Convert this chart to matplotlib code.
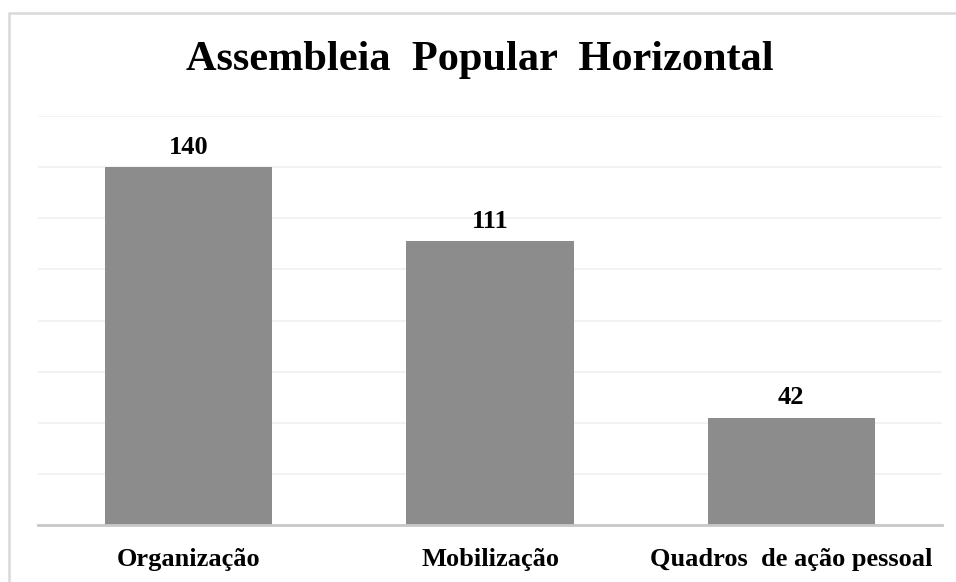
import matplotlib
matplotlib.use('Agg')
import matplotlib.pyplot as plt
from matplotlib.patches import Rectangle

categorias = ['Organização', 'Mobilização', 'Quadros  de ação pessoal']
valores = [140, 111, 42]
titulo = 'Assembleia  Popular  Horizontal'

plt.rcParams['font.family'] = ['Liberation Serif', 'DejaVu Serif']

fig = plt.figure(figsize=(9.56, 5.82), dpi=100)
# moldura do grafico (cortada a direita e embaixo)
fig.patches.append(Rectangle((9/956, -0.05), 1.1, (582 - 13)/582 + 0.05,
                             transform=fig.transFigure, fill=False,
                             edgecolor='#d9d9d9', linewidth=1.8))

ax = fig.add_axes([38/956, 1 - 525/582, (942 - 38)/956, (525 - 116)/582])
x = range(len(categorias))
barras = ax.bar(x, valores, width=0.555, color='#8c8c8c', zorder=2)
ax.set_xlim(-0.5, len(categorias) - 0.5)
ax.set_ylim(0, 160)
ax.set_yticks(range(0, 161, 20))
ax.yaxis.grid(True, color='#f0f0f0', linewidth=1.2, zorder=0)
ax.tick_params(axis='y', left=False, labelleft=False)
ax.tick_params(axis='x', bottom=False, pad=13)
ax.set_xticks(list(x))
ax.set_xticklabels(categorias, fontsize=19, fontweight='bold')
for s in ['top', 'right', 'left']:
    ax.spines[s].set_visible(False)
ax.spines['bottom'].set_color('#c8c8c8')
ax.spines['bottom'].set_linewidth(2)
ax.spines['bottom'].set_zorder(3)

for b, v in zip(barras, valores):
    ax.annotate(str(v), (b.get_x() + b.get_width() / 2, v), xytext=(0, 6),
                textcoords='offset points', ha='center', va='bottom',
                fontsize=19, fontweight='bold')

fig.text(480/956, 1 - 60/582, titulo, ha='center', va='center',
         fontsize=30.5, fontweight='bold')

fig.savefig('out.png', dpi=100)
